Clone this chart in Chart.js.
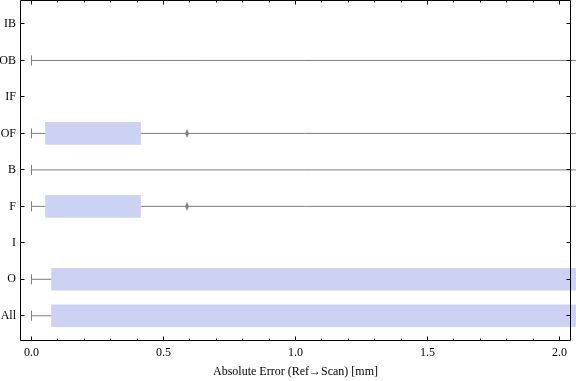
<!DOCTYPE html>
<html>
<head>
<meta charset="utf-8">
<script src="https://cdn.jsdelivr.net/npm/chart.js@4/dist/chart.umd.min.js"></script>
<style>
  html, body { margin: 0; padding: 0; background: #fff; }
  #wrap { width: 576px; height: 381px; position: relative; }
</style>
</head>
<body>
<div id="wrap"><canvas id="c" width="576" height="381"></canvas></div>
<script>
// ---- data ----
const categories   = ['IB', 'OB', 'IF', 'OF', 'B', 'F', 'I', 'O', 'All'];
const whiskerLow   = [null, 0.0, null, 0.0, 0.0, 0.0, null, 0.0, 0.0];
const whiskerHigh  = [null, 2.3, null, 2.3, 2.3, 2.3, null, 2.3, 2.3];   // extends beyond the plot
const boxLow       = [null, null, null, 0.053, null, 0.053, null, 0.076, 0.076];
const boxHigh      = [null, null, null, 0.413, null, 0.413, null, 2.3, 2.3];
const outlierCat   = ['OF', 'F'];
const outlierValue = [0.589, 0.589];
const xTickValues  = [0, 0.5, 1.0, 1.5, 2.0];
const xTitle       = 'Absolute Error (Ref\u2192Scan) [mm]';

// ---- styling ----
const BOX = 'rgb(204,210,244)';
const LINE = '#7f7f7f';
const FONT = "'Liberation Serif', 'DejaVu Serif', serif";

function diamond() {
  const c = document.createElement('canvas');
  c.width = 4; c.height = 9;
  const g = c.getContext('2d');
  g.fillStyle = '#808080';
  g.beginPath();
  g.moveTo(2, 0); g.lineTo(4, 4.5); g.lineTo(2, 9); g.lineTo(0, 4.5);
  g.closePath(); g.fill();
  return c;
}

const boxData = [];
categories.forEach((c, i) => {
  if (boxLow[i] !== null) boxData.push({ y: i, x: [boxLow[i], boxHigh[i]] });
});

const capData = [];
categories.forEach((c, i) => {
  if (whiskerLow[i] !== null) capData.push({ x: whiskerLow[i], y: i });
});

const outlierData = outlierCat.map((c, k) => ({ x: outlierValue[k], y: categories.indexOf(c) }));

const whiskerSets = [];
categories.forEach((c, i) => {
  if (whiskerLow[i] === null) return;
  whiskerSets.push({
    type: 'line',
    data: [{ x: whiskerLow[i], y: i }, { x: whiskerHigh[i], y: i }],
    borderColor: LINE, borderWidth: 1, pointRadius: 0, fill: false,
    clip: false, tension: 0
  });
});

const framePlugin = {
  id: 'frame',
  afterDatasetsDraw(chart) {
    const { ctx, chartArea: a, scales: { x, y } } = chart;
    ctx.save();
    ctx.strokeStyle = '#000';
    ctx.lineWidth = 1;
    const L = Math.round(a.left) + 0.5, R = Math.round(a.right) - 0.5;
    const T = Math.round(a.top) + 0.5, B = Math.round(a.bottom) - 0.5;
    ctx.beginPath();
    ctx.rect(L, T, R - L, B - T);
    for (let k = 0; k <= 20; k++) {
      const v = k / 10;
      const px = Math.floor(x.getPixelForValue(v)) + 0.5;
      const len = (k % 5 === 0) ? 4 : 2;
      ctx.moveTo(px, B); ctx.lineTo(px, B - len);
      ctx.moveTo(px, T); ctx.lineTo(px, T + len);
    }
    categories.forEach((c, i) => {
      const py = Math.floor(y.getPixelForValue(i)) + 0.5;
      ctx.moveTo(L, py); ctx.lineTo(L + 4, py);
      ctx.moveTo(R, py); ctx.lineTo(R - 4, py);
    });
    ctx.stroke();
    ctx.restore();
  }
};

function zeroPad(s) { s.paddingLeft = 0; s.paddingRight = 0; s.paddingTop = 0; s.paddingBottom = 0; }

new Chart(document.getElementById('c'), {
  type: 'scatter',
  data: {
    datasets: [
      {
        type: 'bar', indexAxis: 'y', data: boxData,
        backgroundColor: BOX, borderWidth: 0, barThickness: 22, clip: false
      },
      {
        type: 'scatter', data: outlierData, pointStyle: diamond(),
        pointRadius: 4, clip: false
      },
      {
        type: 'scatter', data: capData, pointStyle: 'line', rotation: 90,
        pointRadius: 5, borderColor: LINE, borderWidth: 1, clip: false
      },
      ...whiskerSets
    ]
  },
  options: {
    responsive: false,
    animation: false,
    events: [],
    layout: { autoPadding: false, padding: { left: 0, right: 5, top: 0, bottom: 0 } },
    plugins: { legend: { display: false }, tooltip: { enabled: false } },
    scales: {
      x: {
        type: 'linear', position: 'bottom',
        min: -0.0436, max: 2.0436, offset: false,
        grid: { display: false, drawTicks: false }, border: { display: false },
        afterBuildTicks: (ax) => { ax.ticks = xTickValues.map(v => ({ value: v })); },
        ticks: {
          padding: 5, color: '#000', maxRotation: 0, autoSkip: false,
          font: { family: FONT, size: 12 },
          callback: (v) => Number(v).toFixed(1)
        },
        title: {
          display: true, text: xTitle, color: '#000',
          font: { family: FONT, size: 12 }, padding: { top: 0, bottom: 2 }
        },
        afterFit: (s) => { s.height = 40; zeroPad(s); }
      },
      y: {
        type: 'linear', position: 'left', reverse: true,
        min: -0.658, max: 8.692, offset: false,
        grid: { display: false, drawTicks: false }, border: { display: false },
        afterBuildTicks: (ax) => { ax.ticks = categories.map((c, i) => ({ value: i })); },
        ticks: {
          padding: 4, color: '#000', autoSkip: false,
          font: { family: FONT, size: 12 },
          callback: (v) => categories[v]
        },
        afterFit: (s) => { s.width = 20; zeroPad(s); }
      }
    }
  },
  plugins: [framePlugin]
});
</script>
</body>
</html>
